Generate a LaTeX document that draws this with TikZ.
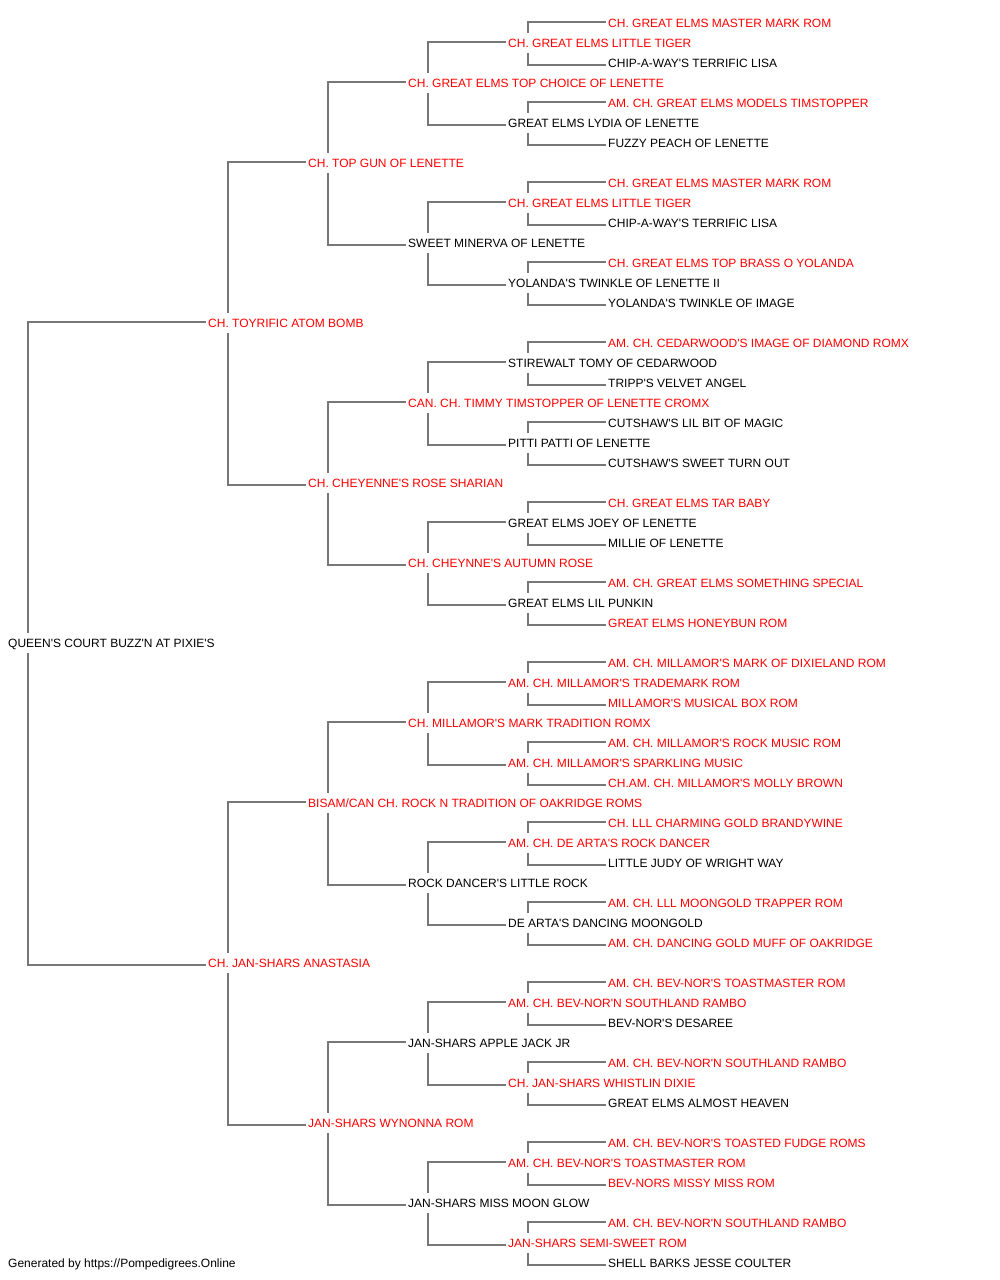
\documentclass[tikz,border=0pt]{standalone}
\usepackage{fontspec}
\setmainfont{Liberation Sans}[Ligatures=TeXOff]
\usepackage{xcolor}
\usepackage{tikz}
\definecolor{champred}{HTML}{FF0000}
\definecolor{linkgray}{HTML}{777777}
\begin{document}
\begin{tikzpicture}[x=1pt,y=-1pt,
		dogname/.style={anchor=west,inner xsep=2pt,inner ysep=0pt,minimum height=20pt,text height=9pt,text depth=0pt,font=\fontsize{12}{14}\selectfont,text=black},
		champ/.style={dogname,text=champred},
		link/.style={draw=linkgray,line width=1.6pt}]
		\useasboundingbox (0,0) rectangle (1000,1280);
		\node [dogname] (dog) at (6,643) {QUEEN'S COURT BUZZ'N AT PIXIE'S};
		\node [champ] (s) at (206,323) {CH. TOYRIFIC ATOM BOMB};
		\node [champ] (d) at (206,963) {CH. JAN-SHARS ANASTASIA};
		\node [champ] (ss) at (306,163) {CH. TOP GUN OF LENETTE};
		\node [champ] (sd) at (306,483) {CH. CHEYENNE'S ROSE SHARIAN};
		\node [champ] (ds) at (306,803) {BISAM/CAN CH. ROCK N TRADITION OF OAKRIDGE ROMS};
		\node [champ] (dd) at (306,1123) {JAN-SHARS WYNONNA ROM};
		\node [champ] (sss) at (406,83) {CH. GREAT ELMS TOP CHOICE OF LENETTE};
		\node [dogname] (ssd) at (406,243) {SWEET MINERVA OF LENETTE};
		\node [champ] (sds) at (406,403) {CAN. CH. TIMMY TIMSTOPPER OF LENETTE CROMX};
		\node [champ] (sdd) at (406,563) {CH. CHEYNNE'S AUTUMN ROSE};
		\node [champ] (dss) at (406,723) {CH. MILLAMOR'S MARK TRADITION ROMX};
		\node [dogname] (dsd) at (406,883) {ROCK DANCER'S LITTLE ROCK};
		\node [dogname] (dds) at (406,1043) {JAN-SHARS APPLE JACK JR};
		\node [dogname] (ddd) at (406,1203) {JAN-SHARS MISS MOON GLOW};
		\node [champ] (ssss) at (506,43) {CH. GREAT ELMS LITTLE TIGER};
		\node [dogname] (sssd) at (506,123) {GREAT ELMS LYDIA OF LENETTE};
		\node [champ] (ssds) at (506,203) {CH. GREAT ELMS LITTLE TIGER};
		\node [dogname] (ssdd) at (506,283) {YOLANDA'S TWINKLE OF LENETTE II};
		\node [dogname] (sdss) at (506,363) {STIREWALT TOMY OF CEDARWOOD};
		\node [dogname] (sdsd) at (506,443) {PITTI PATTI OF LENETTE};
		\node [dogname] (sdds) at (506,523) {GREAT ELMS JOEY OF LENETTE};
		\node [dogname] (sddd) at (506,603) {GREAT ELMS LIL PUNKIN};
		\node [champ] (dsss) at (506,683) {AM. CH. MILLAMOR'S TRADEMARK ROM};
		\node [champ] (dssd) at (506,763) {AM. CH. MILLAMOR'S SPARKLING MUSIC};
		\node [champ] (dsds) at (506,843) {AM. CH. DE ARTA'S ROCK DANCER};
		\node [dogname] (dsdd) at (506,923) {DE ARTA'S DANCING MOONGOLD};
		\node [champ] (ddss) at (506,1003) {AM. CH. BEV-NOR'N SOUTHLAND RAMBO};
		\node [champ] (ddsd) at (506,1083) {CH. JAN-SHARS WHISTLIN DIXIE};
		\node [champ] (ddds) at (506,1163) {AM. CH. BEV-NOR'S TOASTMASTER ROM};
		\node [champ] (dddd) at (506,1243) {JAN-SHARS SEMI-SWEET ROM};
		\node [champ] (sssss) at (606,23) {CH. GREAT ELMS MASTER MARK ROM};
		\node [dogname] (ssssd) at (606,63) {CHIP-A-WAY'S TERRIFIC LISA};
		\node [champ] (sssds) at (606,103) {AM. CH. GREAT ELMS MODELS TIMSTOPPER};
		\node [dogname] (sssdd) at (606,143) {FUZZY PEACH OF LENETTE};
		\node [champ] (ssdss) at (606,183) {CH. GREAT ELMS MASTER MARK ROM};
		\node [dogname] (ssdsd) at (606,223) {CHIP-A-WAY'S TERRIFIC LISA};
		\node [champ] (ssdds) at (606,263) {CH. GREAT ELMS TOP BRASS O YOLANDA};
		\node [dogname] (ssddd) at (606,303) {YOLANDA'S TWINKLE OF IMAGE};
		\node [champ] (sdsss) at (606,343) {AM. CH. CEDARWOOD'S IMAGE OF DIAMOND ROMX};
		\node [dogname] (sdssd) at (606,383) {TRIPP'S VELVET ANGEL};
		\node [dogname] (sdsds) at (606,423) {CUTSHAW'S LIL BIT OF MAGIC};
		\node [dogname] (sdsdd) at (606,463) {CUTSHAW'S SWEET TURN OUT};
		\node [champ] (sddss) at (606,503) {CH. GREAT ELMS TAR BABY};
		\node [dogname] (sddsd) at (606,543) {MILLIE OF LENETTE};
		\node [champ] (sddds) at (606,583) {AM. CH. GREAT ELMS SOMETHING SPECIAL};
		\node [champ] (sdddd) at (606,623) {GREAT ELMS HONEYBUN ROM};
		\node [champ] (dssss) at (606,663) {AM. CH. MILLAMOR'S MARK OF DIXIELAND ROM};
		\node [champ] (dsssd) at (606,703) {MILLAMOR'S MUSICAL BOX ROM};
		\node [champ] (dssds) at (606,743) {AM. CH. MILLAMOR'S ROCK MUSIC ROM};
		\node [champ] (dssdd) at (606,783) {CH.AM. CH. MILLAMOR'S MOLLY BROWN};
		\node [champ] (dsdss) at (606,823) {CH. LLL CHARMING GOLD BRANDYWINE};
		\node [dogname] (dsdsd) at (606,863) {LITTLE JUDY OF WRIGHT WAY};
		\node [champ] (dsdds) at (606,903) {AM. CH. LLL MOONGOLD TRAPPER ROM};
		\node [champ] (dsddd) at (606,943) {AM. CH. DANCING GOLD MUFF OF OAKRIDGE};
		\node [champ] (ddsss) at (606,983) {AM. CH. BEV-NOR'S TOASTMASTER ROM};
		\node [dogname] (ddssd) at (606,1023) {BEV-NOR'S DESAREE};
		\node [champ] (ddsds) at (606,1063) {AM. CH. BEV-NOR'N SOUTHLAND RAMBO};
		\node [dogname] (ddsdd) at (606,1103) {GREAT ELMS ALMOST HEAVEN};
		\node [champ] (dddss) at (606,1143) {AM. CH. BEV-NOR'S TOASTED FUDGE ROMS};
		\node [champ] (dddsd) at (606,1183) {BEV-NORS MISSY MISS ROM};
		\node [champ] (dddds) at (606,1223) {AM. CH. BEV-NOR'N SOUTHLAND RAMBO};
		\node [dogname] (ddddd) at (606,1263) {SHELL BARKS JESSE COULTER};
		\node [dogname] (footer) at (6,1263) {Generated by https://Pompedigrees.Online};
		\draw [link] ([xshift=22]dog.north west) |- ([yshift=1]s.west);
		\draw [link] ([xshift=22]dog.south west) |- ([yshift=-2]d.west);
		\draw [link] ([xshift=22]s.north west) |- ([yshift=1]ss.west);
		\draw [link] ([xshift=22]s.south west) |- ([yshift=-2]sd.west);
		\draw [link] ([xshift=22]d.north west) |- ([yshift=1]ds.west);
		\draw [link] ([xshift=22]d.south west) |- ([yshift=-2]dd.west);
		\draw [link] ([xshift=22]ss.north west) |- ([yshift=1]sss.west);
		\draw [link] ([xshift=22]ss.south west) |- ([yshift=-2]ssd.west);
		\draw [link] ([xshift=22]sd.north west) |- ([yshift=1]sds.west);
		\draw [link] ([xshift=22]sd.south west) |- ([yshift=-2]sdd.west);
		\draw [link] ([xshift=22]ds.north west) |- ([yshift=1]dss.west);
		\draw [link] ([xshift=22]ds.south west) |- ([yshift=-2]dsd.west);
		\draw [link] ([xshift=22]dd.north west) |- ([yshift=1]dds.west);
		\draw [link] ([xshift=22]dd.south west) |- ([yshift=-2]ddd.west);
		\draw [link] ([xshift=22]sss.north west) |- ([yshift=1]ssss.west);
		\draw [link] ([xshift=22]sss.south west) |- ([yshift=-2]sssd.west);
		\draw [link] ([xshift=22]ssd.north west) |- ([yshift=1]ssds.west);
		\draw [link] ([xshift=22]ssd.south west) |- ([yshift=-2]ssdd.west);
		\draw [link] ([xshift=22]sds.north west) |- ([yshift=1]sdss.west);
		\draw [link] ([xshift=22]sds.south west) |- ([yshift=-2]sdsd.west);
		\draw [link] ([xshift=22]sdd.north west) |- ([yshift=1]sdds.west);
		\draw [link] ([xshift=22]sdd.south west) |- ([yshift=-2]sddd.west);
		\draw [link] ([xshift=22]dss.north west) |- ([yshift=1]dsss.west);
		\draw [link] ([xshift=22]dss.south west) |- ([yshift=-2]dssd.west);
		\draw [link] ([xshift=22]dsd.north west) |- ([yshift=1]dsds.west);
		\draw [link] ([xshift=22]dsd.south west) |- ([yshift=-2]dsdd.west);
		\draw [link] ([xshift=22]dds.north west) |- ([yshift=1]ddss.west);
		\draw [link] ([xshift=22]dds.south west) |- ([yshift=-2]ddsd.west);
		\draw [link] ([xshift=22]ddd.north west) |- ([yshift=1]ddds.west);
		\draw [link] ([xshift=22]ddd.south west) |- ([yshift=-2]dddd.west);
		\draw [link] ([xshift=22]ssss.north west) |- ([yshift=1]sssss.west);
		\draw [link] ([xshift=22]ssss.south west) |- ([yshift=-2]ssssd.west);
		\draw [link] ([xshift=22]sssd.north west) |- ([yshift=1]sssds.west);
		\draw [link] ([xshift=22]sssd.south west) |- ([yshift=-2]sssdd.west);
		\draw [link] ([xshift=22]ssds.north west) |- ([yshift=1]ssdss.west);
		\draw [link] ([xshift=22]ssds.south west) |- ([yshift=-2]ssdsd.west);
		\draw [link] ([xshift=22]ssdd.north west) |- ([yshift=1]ssdds.west);
		\draw [link] ([xshift=22]ssdd.south west) |- ([yshift=-2]ssddd.west);
		\draw [link] ([xshift=22]sdss.north west) |- ([yshift=1]sdsss.west);
		\draw [link] ([xshift=22]sdss.south west) |- ([yshift=-2]sdssd.west);
		\draw [link] ([xshift=22]sdsd.north west) |- ([yshift=1]sdsds.west);
		\draw [link] ([xshift=22]sdsd.south west) |- ([yshift=-2]sdsdd.west);
		\draw [link] ([xshift=22]sdds.north west) |- ([yshift=1]sddss.west);
		\draw [link] ([xshift=22]sdds.south west) |- ([yshift=-2]sddsd.west);
		\draw [link] ([xshift=22]sddd.north west) |- ([yshift=1]sddds.west);
		\draw [link] ([xshift=22]sddd.south west) |- ([yshift=-2]sdddd.west);
		\draw [link] ([xshift=22]dsss.north west) |- ([yshift=1]dssss.west);
		\draw [link] ([xshift=22]dsss.south west) |- ([yshift=-2]dsssd.west);
		\draw [link] ([xshift=22]dssd.north west) |- ([yshift=1]dssds.west);
		\draw [link] ([xshift=22]dssd.south west) |- ([yshift=-2]dssdd.west);
		\draw [link] ([xshift=22]dsds.north west) |- ([yshift=1]dsdss.west);
		\draw [link] ([xshift=22]dsds.south west) |- ([yshift=-2]dsdsd.west);
		\draw [link] ([xshift=22]dsdd.north west) |- ([yshift=1]dsdds.west);
		\draw [link] ([xshift=22]dsdd.south west) |- ([yshift=-2]dsddd.west);
		\draw [link] ([xshift=22]ddss.north west) |- ([yshift=1]ddsss.west);
		\draw [link] ([xshift=22]ddss.south west) |- ([yshift=-2]ddssd.west);
		\draw [link] ([xshift=22]ddsd.north west) |- ([yshift=1]ddsds.west);
		\draw [link] ([xshift=22]ddsd.south west) |- ([yshift=-2]ddsdd.west);
		\draw [link] ([xshift=22]ddds.north west) |- ([yshift=1]dddss.west);
		\draw [link] ([xshift=22]ddds.south west) |- ([yshift=-2]dddsd.west);
		\draw [link] ([xshift=22]dddd.north west) |- ([yshift=1]dddds.west);
		\draw [link] ([xshift=22]dddd.south west) |- ([yshift=-2]ddddd.west);
	\end{tikzpicture}
\end{document}
